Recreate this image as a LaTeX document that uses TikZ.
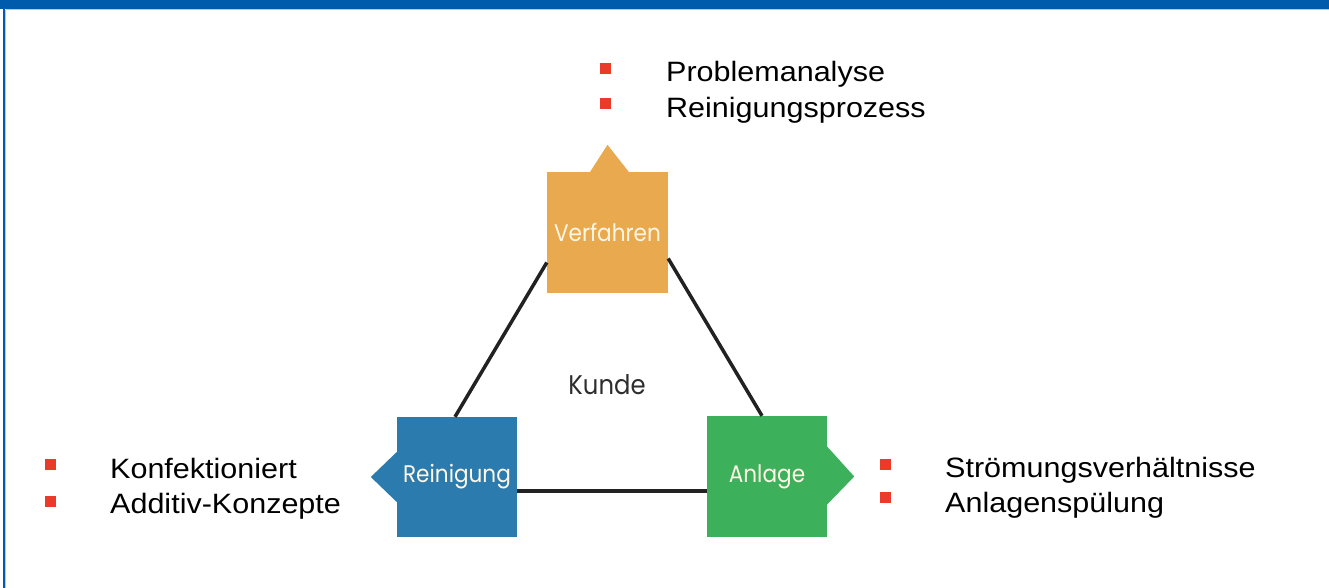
\documentclass[tikz,border=0pt]{standalone}
\usepackage{fontspec}
\setmainfont{Liberation Sans}[FakeStretch=1.09]
\newfontfamily\geo{Poppins}[FakeStretch=0.9]
\definecolor{barblue}{HTML}{005BAC}
\definecolor{lightblue}{HTML}{A9CDF0}
\definecolor{vcol}{HTML}{E9A94F}
\definecolor{rcol}{HTML}{2B7BAE}
\definecolor{acol}{HTML}{3CB05A}
\definecolor{bulred}{HTML}{EA3A2A}
\definecolor{linecol}{HTML}{222222}
\definecolor{labcol}{HTML}{FFF6E6}
\tikzset{
  boxnode/.style={draw=none, inner sep=0pt, font=\geo\fontsize{24}{28}\selectfont, text=labcol},
  bul/.style={fill=bulred, draw=none, minimum size=11pt, inner sep=0pt},
  item/.style={anchor=base west, inner sep=0pt, font=\fontsize{28}{34}\selectfont, text=black},
  conn/.style={draw=linecol, line width=3.5pt}
}
\begin{document}
\begin{tikzpicture}[x=1pt,y=-1pt]
\useasboundingbox (0,0) rectangle (1329,588);
\fill[white] (0,0) rectangle (1329,588);
% header bar and frame
\fill[barblue] (0,0) rectangle (1329,9.5);
\draw[lightblue, line width=1pt] (6,10) -- (1329,10);
\draw[barblue, line width=2pt] (4,9) -- (4,588);
\draw[lightblue, line width=0.8pt] (5.6,10) -- (5.6,588);

% boxes
\node[boxnode, fill=vcol, minimum width=121pt, minimum height=121pt] (V) at (607.5,232.5) {Verfahren};
\node[boxnode, fill=rcol, minimum width=120pt, minimum height=120pt] (R) at (457,477) {Reinigung};
\node[boxnode, fill=acol, minimum width=120pt, minimum height=121pt] (A) at (767,476.5) {Anlage};

% tabs
\fill[vcol] ([xshift=-18pt,yshift=-1pt]V.north) -- ([yshift=27pt]V.north) -- ([xshift=22pt,yshift=-1pt]V.north) -- cycle;
\fill[rcol] ([yshift=26pt,xshift=1pt]R.west) -- ([xshift=-26pt]R.west) -- ([yshift=-26pt,xshift=1pt]R.west) -- cycle;
\fill[acol] ([yshift=31pt,xshift=-1pt]A.east) -- ([xshift=27pt]A.east) -- ([yshift=-29pt,xshift=-1pt]A.east) -- cycle;

% connectors
\draw[conn] ([yshift=-30pt]V.west) -- ([xshift=-2pt]R.north);
\draw[conn] ([yshift=-26pt]V.east) -- ([xshift=-5pt]A.north);
\draw[conn] ([yshift=-14pt]R.east) -- ([yshift=-14.5pt]A.west);

% center label
\node[inner sep=0pt, font=\geo\fontsize{27}{31}\selectfont, text=black!82] (K) at (607,385) {Kunde};

% bullets top
\node[bul] (b1) at (605,68.5) {};
\node[bul] (b2) at (605,103.5) {};
\node[item] (t1) at (666,82) {Problemanalyse};
\node[item] (t2) at (666,118) {Reinigungsprozess};

% bullets left
\node[bul] (b3) at (50,464) {};
\node[bul] (b4) at (50,501) {};
\node[item] (t3) at (110,478) {Konfektioniert};
\node[item] (t4) at (110,513) {Additiv-Konzepte};

% bullets right
\node[bul] (b5) at (885,464) {};
\node[bul] (b6) at (885,497) {};
\node[item] (t5) at (945,477) {Strömungsverhältnisse};
\node[item] (t6) at (945,512) {Anlagenspülung};
\end{tikzpicture}
\end{document}
